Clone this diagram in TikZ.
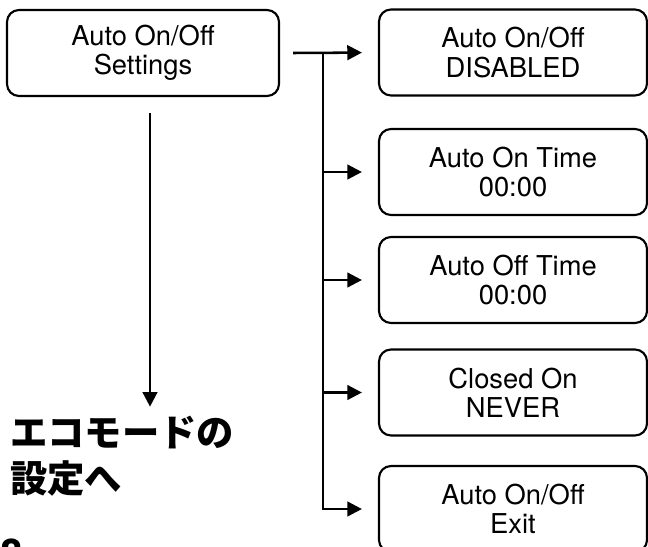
\documentclass[tikz,border=0pt]{standalone}
\usepackage{fontspec}
\setmainfont{TeX Gyre Heros}
\newfontfamily\jpfont{Noto Sans CJK JP}
\usetikzlibrary{arrows.meta,positioning,calc}

\begin{document}
\begin{tikzpicture}[
  x=0.75pt, y=-0.75pt,
  menu/.style={draw, line width=1.6pt, rounded corners=9pt, align=center, inner sep=0pt,
    minimum width=201pt, minimum height=64.5pt, font=\fontsize{20.5}{22}\selectfont},
  jptext/.style={align=left, inner sep=0pt, font=\jpfont\bfseries\fontsize{28}{34}\selectfont},
  link/.style={line width=1.9pt, line cap=rect},
  arr/.style={-{Triangle[length=11pt,width=11pt]}, line width=1.9pt}
]
\path[use as bounding box, clip] (0,0) rectangle (648,546);

\node[menu, minimum width=204pt] (settings) at (143,53) {Auto On/Off\\Settings};
\node[menu] (disabled) at (513,52.5) {Auto On/Off\\DISABLED};
\node[menu] (ontime) at (513,172) {Auto On Time\\00:00};
\node[menu] (offtime) at (513,280) {Auto Off Time\\00:00};
\node[menu] (closed) at (513,392.5) {Closed On\\NEVER};
\node[menu] (exit) at (513,509) {Auto On/Off\\Exit};

\node[jptext, anchor=north west] (eco) at (10,416) {エコモードの\\設定へ};
\node[jptext, anchor=north west, font=\jpfont\bfseries\fontsize{30}{30}\selectfont] (page) at (-1,539) {8};

% down to the eco mode page
\coordinate (downstart) at ($(settings.south)+(7,16)$);
\draw[arr, shorten >=7pt] (downstart) -- (downstart |- eco.north);

% branches to the sub menus
\coordinate (start) at ($(settings.east)+(13,0)$);
\coordinate (trunk) at ($(start)+(30,0)$);
\draw[arr, shorten >=12pt] (start) -- (disabled.west);
\draw[link] (trunk) -- (trunk |- exit.west);
\foreach \b in {ontime,offtime,closed,exit}
  \draw[arr, shorten >=12pt] (trunk |- \b.west) -- (\b.west);
\end{tikzpicture}
\end{document}
